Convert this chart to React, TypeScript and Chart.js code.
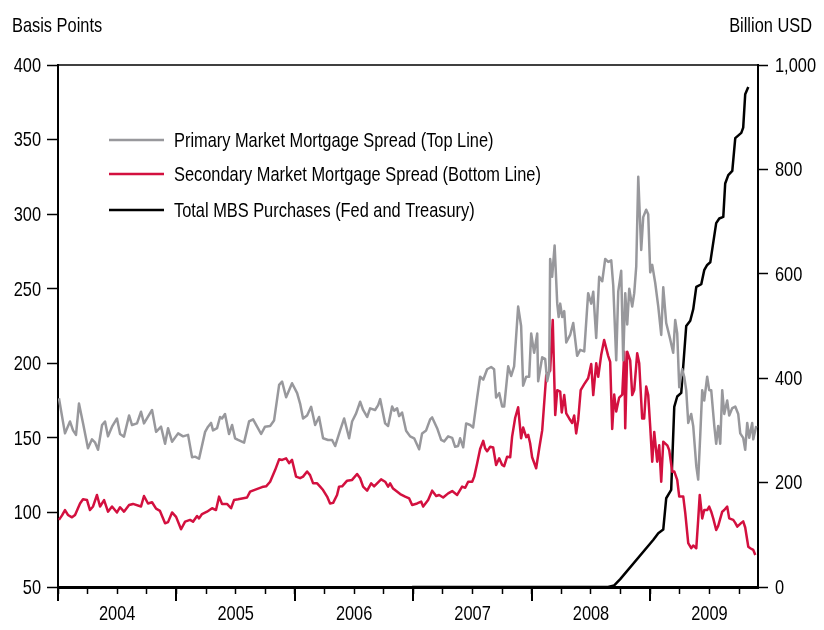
import React, { useEffect, useRef } from "react";
import { Chart, registerables } from "chart.js";

Chart.register(...registerables);

const FONT = "'Liberation Sans', Arial, sans-serif";
const FONT_SIZE = 21;
const SCALE_X = 0.78;

const yearLabels = [2004, 2005, 2006, 2007, 2008, 2009];
const xMin = 2004;
const xMax = 2009.91;
const leftTitle = "Basis Points";
const rightTitle = "Billion USD";
const seriesNames = [
  "Primary Market Mortgage Spread (Top Line)",
  "Secondary Market Mortgage Spread (Bottom Line)",
  "Total MBS Purchases (Fed and Treasury)",
];
const seriesColors = ["#98989c", "#d3103f", "#000000"];

// [decimal year, basis points]
const primarySpread: [number, number][] = [
  [2004.008, 176.5], [2004.059, 153], [2004.101, 161], [2004.127, 155], [2004.152, 152], [2004.177, 173],
  [2004.211, 160], [2004.253, 143], [2004.287, 149], [2004.312, 147], [2004.338, 142], [2004.372, 158.6],
  [2004.397, 161], [2004.422, 151], [2004.456, 157.5], [2004.498, 163], [2004.524, 152.6], [2004.557, 150.8],
  [2004.6, 165], [2004.625, 158.6], [2004.667, 159.7], [2004.701, 167.5], [2004.726, 159.7], [2004.794, 168.7],
  [2004.828, 154], [2004.87, 157.5], [2004.904, 146], [2004.929, 156.5], [2004.963, 147.4], [2005.014, 153],
  [2005.056, 151], [2005.098, 152], [2005.132, 137], [2005.157, 137.4], [2005.191, 136], [2005.242, 154],
  [2005.267, 157.5], [2005.292, 160], [2005.309, 155], [2005.343, 156.5], [2005.368, 164], [2005.385, 163],
  [2005.41, 166], [2005.444, 152.6], [2005.47, 158.6], [2005.495, 149.7], [2005.52, 148.6], [2005.571, 146.8],
  [2005.613, 161], [2005.647, 162.4], [2005.681, 157.5], [2005.715, 152.6], [2005.748, 157.5], [2005.791, 158],
  [2005.824, 161.6], [2005.867, 185.5], [2005.892, 187.7], [2005.926, 177.2], [2005.976, 186.6], [2006.019, 180],
  [2006.044, 173], [2006.069, 163], [2006.103, 165], [2006.137, 170.8], [2006.171, 158.6], [2006.204, 164],
  [2006.238, 149.7], [2006.28, 148.6], [2006.314, 148.6], [2006.34, 144.5], [2006.382, 155], [2006.416, 163],
  [2006.458, 149.7], [2006.483, 161], [2006.517, 166.4], [2006.551, 174.2], [2006.576, 168.7], [2006.61, 164],
  [2006.635, 169.8], [2006.677, 168.7], [2006.703, 172], [2006.72, 176], [2006.762, 159.7], [2006.787, 158],
  [2006.821, 171], [2006.838, 168.2], [2006.863, 169.8], [2006.88, 164.6], [2006.905, 167], [2006.939, 154.8],
  [2006.973, 151], [2007.007, 149.7], [2007.049, 142.3], [2007.074, 153], [2007.108, 155], [2007.142, 162.4],
  [2007.159, 163.7], [2007.201, 156.5], [2007.235, 148.6], [2007.26, 147.6], [2007.294, 151], [2007.328, 150],
  [2007.353, 144], [2007.378, 144.5], [2007.395, 149.7], [2007.421, 143.7], [2007.446, 159.7], [2007.48, 158.6],
  [2007.505, 157], [2007.539, 177], [2007.564, 191], [2007.59, 189], [2007.623, 196], [2007.657, 197.5],
  [2007.682, 196], [2007.699, 177], [2007.725, 180], [2007.75, 171], [2007.767, 171], [2007.801, 198],
  [2007.826, 191.5], [2007.851, 198], [2007.885, 238], [2007.91, 225], [2007.927, 185], [2007.953, 191],
  [2007.978, 191], [2007.995, 220], [2008.02, 207], [2008.046, 220], [2008.054, 188], [2008.088, 204],
  [2008.113, 203], [2008.13, 188], [2008.147, 194], [2008.155, 270], [2008.172, 258], [2008.193, 279],
  [2008.215, 240], [2008.227, 231], [2008.24, 240], [2008.257, 231], [2008.274, 235], [2008.291, 214],
  [2008.324, 219], [2008.35, 227], [2008.383, 205], [2008.409, 209], [2008.443, 208], [2008.476, 247],
  [2008.502, 240], [2008.519, 248], [2008.544, 217], [2008.569, 258], [2008.595, 255], [2008.62, 270],
  [2008.645, 268], [2008.671, 269], [2008.688, 252], [2008.713, 202], [2008.73, 248], [2008.755, 262],
  [2008.772, 202], [2008.789, 247], [2008.806, 226], [2008.823, 250], [2008.848, 238], [2008.865, 247],
  [2008.882, 265], [2008.899, 325], [2008.924, 276], [2008.941, 298], [2008.966, 303], [2008.983, 300],
  [2009.0, 261], [2009.017, 266], [2009.042, 254], [2009.068, 238], [2009.093, 219], [2009.11, 251],
  [2009.135, 227], [2009.169, 216], [2009.194, 207], [2009.211, 229], [2009.228, 220], [2009.245, 184],
  [2009.27, 196], [2009.287, 191], [2009.304, 182], [2009.321, 160], [2009.346, 166], [2009.363, 158],
  [2009.389, 131], [2009.405, 122], [2009.422, 151], [2009.439, 182], [2009.456, 175], [2009.481, 191],
  [2009.498, 182], [2009.515, 182], [2009.541, 158], [2009.557, 146], [2009.574, 158], [2009.591, 146],
  [2009.608, 182], [2009.625, 166], [2009.65, 175], [2009.667, 165], [2009.693, 170], [2009.718, 171],
  [2009.743, 166], [2009.76, 153], [2009.785, 150], [2009.802, 142], [2009.819, 160], [2009.836, 150],
  [2009.861, 160], [2009.87, 149], [2009.895, 158],
];

// [decimal year, basis points]
const secondarySpread: [number, number][] = [
  [2004.008, 95], [2004.034, 98], [2004.059, 101.6], [2004.084, 98.3], [2004.118, 96.7], [2004.144, 98.3],
  [2004.186, 106], [2004.211, 108.8], [2004.245, 108.3], [2004.27, 101.6], [2004.296, 104], [2004.329, 111.7],
  [2004.355, 104], [2004.389, 108.3], [2004.422, 100.5], [2004.456, 104], [2004.498, 100], [2004.524, 103.5],
  [2004.557, 100.5], [2004.6, 105], [2004.633, 105.7], [2004.701, 104], [2004.726, 111], [2004.76, 106],
  [2004.794, 106.8], [2004.828, 102.5], [2004.861, 101], [2004.904, 92.7], [2004.929, 93.5], [2004.963, 100],
  [2004.997, 97], [2005.039, 88.7], [2005.073, 93.8], [2005.115, 95], [2005.14, 93.8], [2005.174, 97.6],
  [2005.191, 96], [2005.216, 98.9], [2005.258, 100.5], [2005.301, 102.8], [2005.334, 101.6], [2005.36, 110.6],
  [2005.385, 105.7], [2005.427, 105.7], [2005.461, 102.8], [2005.486, 108.3], [2005.52, 108.8], [2005.554, 109.4],
  [2005.596, 110], [2005.622, 113.9], [2005.655, 115], [2005.689, 116], [2005.723, 117], [2005.757, 117.5],
  [2005.791, 120.6], [2005.833, 128.4], [2005.867, 135.6], [2005.892, 135.2], [2005.926, 136.3], [2005.951, 133],
  [2005.976, 135.2], [2006.01, 124], [2006.044, 123], [2006.069, 124], [2006.103, 127.4], [2006.128, 125],
  [2006.154, 119.5], [2006.188, 119.5], [2006.213, 117.3], [2006.238, 115], [2006.272, 110.6], [2006.297, 106],
  [2006.323, 106.4], [2006.356, 111.7], [2006.373, 117.3], [2006.399, 117.5], [2006.441, 121.3], [2006.483, 121.8],
  [2006.525, 125.8], [2006.551, 122.9], [2006.576, 117.3], [2006.61, 114.6], [2006.644, 119.5], [2006.669, 117.5],
  [2006.728, 122.2], [2006.762, 120.6], [2006.787, 117.3], [2006.804, 119.5], [2006.829, 116], [2006.889, 112.3],
  [2006.931, 110.6], [2006.965, 109.4], [2006.99, 105], [2007.032, 106], [2007.066, 107.3], [2007.083, 103.9],
  [2007.125, 108.3], [2007.159, 114.6], [2007.193, 111], [2007.218, 111.7], [2007.252, 110], [2007.294, 112.8],
  [2007.328, 114.3], [2007.37, 111.7], [2007.412, 117.3], [2007.438, 116.5], [2007.463, 120.6], [2007.497, 120.6],
  [2007.514, 124], [2007.539, 133], [2007.564, 142.5], [2007.59, 148], [2007.606, 143], [2007.623, 141],
  [2007.649, 144], [2007.674, 143.5], [2007.699, 131.8], [2007.725, 136.3], [2007.75, 131.8], [2007.767, 131],
  [2007.792, 137.4], [2007.818, 137], [2007.834, 150.8], [2007.86, 163.5], [2007.885, 170.5], [2007.91, 149.7],
  [2007.927, 157], [2007.953, 150.5], [2007.97, 152], [2007.986, 146.4], [2008.003, 137], [2008.037, 129.6],
  [2008.063, 143], [2008.088, 155], [2008.122, 192], [2008.155, 195], [2008.177, 229], [2008.198, 165.3],
  [2008.215, 182], [2008.24, 181], [2008.253, 167], [2008.274, 178.7], [2008.291, 166.4], [2008.316, 163],
  [2008.341, 160], [2008.358, 165], [2008.375, 153], [2008.392, 162], [2008.413, 182], [2008.443, 186],
  [2008.476, 190], [2008.502, 199.5], [2008.519, 178.7], [2008.544, 200], [2008.561, 191], [2008.586, 205.5],
  [2008.611, 215.6], [2008.645, 205], [2008.662, 201], [2008.679, 156], [2008.696, 179], [2008.713, 167.6],
  [2008.738, 177], [2008.764, 179], [2008.781, 207.8], [2008.789, 156.4], [2008.806, 207.8], [2008.831, 202],
  [2008.848, 178.7], [2008.865, 182], [2008.89, 206.7], [2008.907, 200], [2008.932, 163], [2008.949, 163],
  [2008.966, 184.4], [2008.983, 178.7], [2009.0, 157.5], [2009.017, 134], [2009.034, 154], [2009.059, 134],
  [2009.076, 145], [2009.093, 120.6], [2009.11, 147.4], [2009.144, 145], [2009.16, 141.9], [2009.186, 127.3],
  [2009.203, 127.5], [2009.228, 121.8], [2009.245, 110.6], [2009.279, 110.6], [2009.296, 99.5], [2009.321, 79.4],
  [2009.346, 76], [2009.363, 77.8], [2009.389, 76], [2009.405, 95], [2009.418, 111.7], [2009.439, 96],
  [2009.456, 101.6], [2009.481, 101.6], [2009.498, 103.9], [2009.515, 100.5], [2009.532, 96], [2009.557, 88.2],
  [2009.574, 91], [2009.608, 100.5], [2009.625, 101.6], [2009.65, 103.9], [2009.667, 96], [2009.701, 95],
  [2009.718, 93], [2009.735, 90.5], [2009.769, 93], [2009.785, 94], [2009.802, 89.9], [2009.828, 77],
  [2009.845, 76], [2009.87, 74.9], [2009.887, 71.5],
];

// [decimal year, billion USD]
const mbsPurchases: [number, number][] = [
  [2006.99, 0], [2008.645, 0], [2008.696, 3], [2008.747, 15], [2009.025, 90], [2009.068, 103],
  [2009.11, 110], [2009.135, 170], [2009.177, 186], [2009.203, 345], [2009.228, 365], [2009.262, 372],
  [2009.304, 500], [2009.338, 510], [2009.363, 532], [2009.389, 575], [2009.431, 580], [2009.456, 607],
  [2009.481, 617], [2009.507, 622], [2009.557, 697], [2009.583, 706], [2009.617, 709], [2009.633, 773],
  [2009.659, 789], [2009.693, 797], [2009.718, 860], [2009.769, 870], [2009.785, 880], [2009.802, 944],
  [2009.828, 958],
];

const toPoints = (arr: [number, number][]) => arr.map(([x, y]) => ({ x, y }));

function drawText(ctx: CanvasRenderingContext2D, text: string, x: number, y: number, align: CanvasTextAlign) {
  ctx.save();
  ctx.translate(x, y);
  ctx.scale(SCALE_X, 1);
  ctx.textAlign = align;
  ctx.fillText(text, 0, 0);
  ctx.restore();
}

const decorPlugin = {
  id: "decor",
  afterDraw(chart: any) {
    const { ctx, chartArea: a, scales } = chart;
    ctx.save();
    ctx.strokeStyle = "#000";
    // top frame line
    ctx.lineWidth = 1.5;
    ctx.beginPath();
    ctx.moveTo(a.left, a.top);
    ctx.lineTo(a.right, a.top);
    ctx.stroke();
    // long year ticks
    ctx.lineWidth = 2;
    ctx.beginPath();
    for (const y of yearLabels) {
      const x = Math.round(scales.x.getPixelForValue(y));
      ctx.moveTo(x, a.bottom);
      ctx.lineTo(x, a.bottom + 14);
    }
    ctx.stroke();

    ctx.fillStyle = "#000";
    ctx.font = `${FONT_SIZE}px ${FONT}`;
    ctx.textBaseline = "middle";
    // tick labels
    for (const t of scales.y.ticks) {
      drawText(ctx, String(t.label), a.left - 17, scales.y.getPixelForValue(t.value) + 1, "right");
    }
    for (const t of scales.y1.ticks) {
      drawText(ctx, String(t.label), a.right + 17, scales.y1.getPixelForValue(t.value) + 1, "left");
    }
    for (const t of scales.x.ticks) {
      if (t.label) drawText(ctx, String(t.label), scales.x.getPixelForValue(t.value), a.bottom + 27, "center");
    }
    // axis titles
    drawText(ctx, leftTitle, 12, 26, "left");
    drawText(ctx, rightTitle, 812, 26, "right");
    // legend
    const rows = [140, 174, 210];
    rows.forEach((ry, i) => {
      ctx.strokeStyle = seriesColors[i];
      ctx.lineWidth = 2.5;
      ctx.beginPath();
      ctx.moveTo(109, ry);
      ctx.lineTo(164, ry);
      ctx.stroke();
      ctx.fillStyle = "#000";
      drawText(ctx, seriesNames[i], 174, ry + 1, "left");
    });
    ctx.restore();
  },
};

export default function App() {
  const ref = useRef<HTMLCanvasElement>(null);
  useEffect(() => {
    const hidden = "rgba(0,0,0,0)";
    const tickFont = { family: FONT, size: FONT_SIZE };
    const chart = new Chart(ref.current as HTMLCanvasElement, {
      type: "line",
      data: {
        datasets: [
          {
            label: seriesNames[0],
            data: toPoints(primarySpread),
            borderColor: seriesColors[0],
            borderWidth: 2.5,
            pointRadius: 0,
            yAxisID: "y",
            borderJoinStyle: "round",
          },
          {
            label: seriesNames[1],
            data: toPoints(secondarySpread),
            borderColor: seriesColors[1],
            borderWidth: 2.5,
            pointRadius: 0,
            yAxisID: "y",
            borderJoinStyle: "round",
          },
          {
            label: seriesNames[2],
            data: toPoints(mbsPurchases),
            borderColor: seriesColors[2],
            borderWidth: 2.5,
            pointRadius: 0,
            yAxisID: "y1",
            borderJoinStyle: "round",
            clip: false,
          },
        ],
      } as any,
      options: {
        responsive: false,
        animation: false,
        devicePixelRatio: 1,
        layout: { padding: { top: 65, left: 0, right: 0, bottom: 0 } },
        plugins: { legend: { display: false }, tooltip: { enabled: false } },
        scales: {
          x: {
            type: "linear",
            min: xMin,
            max: xMax,
            afterFit: (s: any) => { s.height = 43; },
            afterBuildTicks: (s: any) => {
              const t: any[] = [];
              for (let k = 0; k * 0.25 + xMin <= xMax; k++) t.push({ value: xMin + k * 0.25 });
              s.ticks = t;
            },
            ticks: {
              autoSkip: false,
              maxRotation: 0,
              padding: 5,
              color: hidden,
              font: tickFont,
              callback: (v: any) => (Math.abs((v % 1) - 0.5) < 1e-6 ? String(Math.floor(v)) : ""),
            },
            grid: { drawOnChartArea: false, drawTicks: true, tickLength: 7, color: "#000", tickWidth: 1.5 },
            border: { display: true, color: "#000", width: 3 },
          },
          y: {
            type: "linear",
            position: "left",
            min: 50,
            max: 400,
            afterFit: (s: any) => { s.width = 58; },
            ticks: { stepSize: 50, padding: 6, color: hidden, font: tickFont },
            grid: { drawOnChartArea: false, drawTicks: true, tickLength: 11, color: "#000", tickWidth: 1.5 },
            border: { display: true, color: "#000", width: 2 },
          },
          y1: {
            type: "linear",
            position: "right",
            min: 0,
            max: 1000,
            afterFit: (s: any) => { s.width = 66; },
            ticks: {
              stepSize: 200,
              padding: 7,
              color: hidden,
              font: tickFont,
              callback: (v: any) => Number(v).toLocaleString("en-US"),
            },
            grid: { drawOnChartArea: false, drawTicks: true, tickLength: 10, color: "#000", tickWidth: 1.5 },
            border: { display: true, color: "#000", width: 2 },
          },
        },
      } as any,
      plugins: [decorPlugin],
    });
    return () => chart.destroy();
  }, []);
  return (
    <div style={{ position: "fixed", left: 0, top: 0, width: 824, height: 630, background: "#fff" }}>
      <canvas ref={ref} width={824} height={630} style={{ display: "block" }} />
    </div>
  );
}
